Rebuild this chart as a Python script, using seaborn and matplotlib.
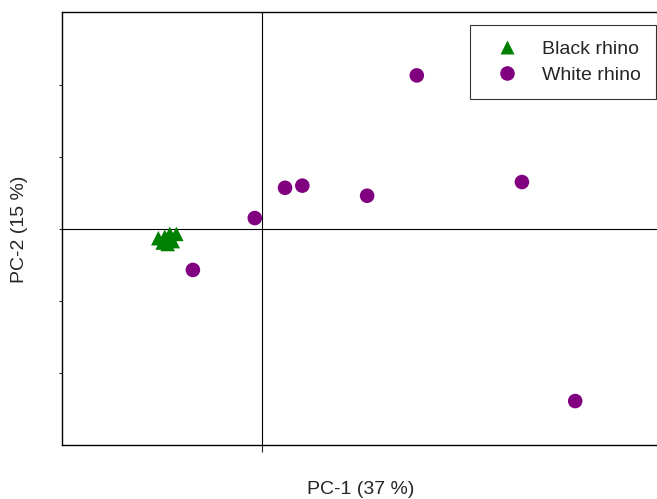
import matplotlib
matplotlib.use("Agg")
import matplotlib.pyplot as plt
import seaborn as sns
import pandas as pd

# PCA scores
black_pc1 = [-1.44, -1.38, -1.35, -1.31, -1.28, -1.24, -1.19]
black_pc2 = [-0.13, -0.19, -0.11, -0.21, -0.07, -0.17, -0.07]
white_pc1 = [-0.96, -0.10, 0.32, 0.56, 1.46, 2.15, 3.61, 4.35]
white_pc2 = [-0.57, 0.15, 0.57, 0.60, 0.46, 2.13, 0.65, -2.39]
groups = ["Black rhino", "White rhino"]

df = pd.DataFrame({
    "PC1": black_pc1 + white_pc1,
    "PC2": black_pc2 + white_pc2,
    "group": [groups[0]] * len(black_pc1) + [groups[1]] * len(white_pc1),
})

sns.set_style("white")
plt.rcParams["font.family"] = ["Liberation Sans", "DejaVu Sans"]

fig = plt.figure(figsize=(6.57, 4.99), dpi=100)
ax = fig.add_axes([62 / 657, 1 - 445 / 499, (662 - 62) / 657, (445 - 12) / 499])

ax.axhline(0, color="black", lw=0.8, zorder=1)
ax.axvline(0, color="black", lw=0.8, zorder=1)

sns.scatterplot(data=df, x="PC1", y="PC2", hue="group", style="group",
                palette={"Black rhino": "#008000", "White rhino": "#800080"},
                markers={"Black rhino": "^", "White rhino": "o"},
                s=110, edgecolor="none", ax=ax, zorder=3)

ax.set_xlim(-200 / 72, 400 / 72)
ax.set_ylim(-3, 3.01)
ax.set_xticks([0])
ax.set_yticks([-2, -1, 0, 1, 2])
ax.set_xticklabels([])
ax.set_yticklabels([])
ax.tick_params(axis="x", direction="out", length=5, width=0.8, bottom=True)
ax.tick_params(axis="y", direction="out", length=2, width=0.8, left=True)
for sp in ax.spines.values():
    sp.set_color("black")
    sp.set_linewidth(1.0)

ax.set_xlabel("")
ax.set_ylabel("")
fig.text(361 / 657, 1 - 489 / 499, "PC-1 (37 %)", ha="center", va="center", fontsize=14)
fig.text(20 / 657, 1 - 229 / 499, "PC-2 (15 %)", ha="center", va="center",
         rotation=90, fontsize=14)

leg = ax.legend(loc="upper right", bbox_to_anchor=((656 - 62) / 600, (445 - 25) / 433),
                fontsize=14, frameon=True, fancybox=False, title=None,
                markerscale=1.0, handlelength=2.2, handletextpad=0.7,
                borderpad=0.8, labelspacing=0.4, borderaxespad=0)
leg.get_frame().set_edgecolor("black")
leg.get_frame().set_linewidth(0.8)

fig.savefig("out.png", dpi=100)
